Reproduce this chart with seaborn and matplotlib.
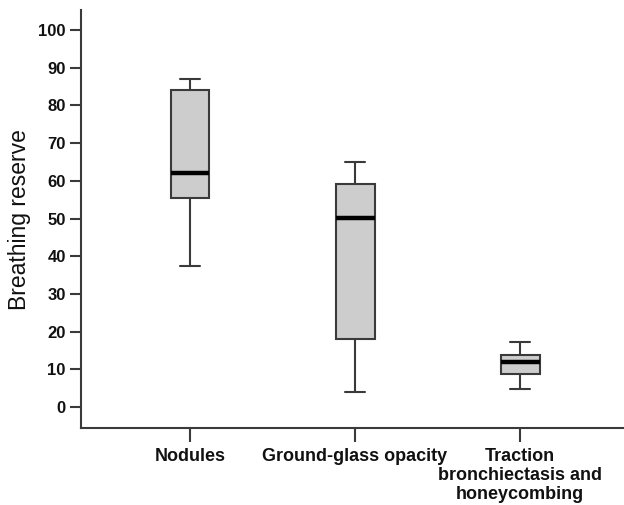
import matplotlib
matplotlib.use('Agg')
import matplotlib.pyplot as plt
import numpy as np
import pandas as pd
import seaborn as sns

# five-number summaries
categories = ['Nodules', 'Ground-glass opacity', 'Traction\nbronchiectasis and\nhoneycombing']
whisker_low = [37.5, 3.9, 4.9]
q1 = [55.4, 18.2, 8.8]
median = [62.1, 50.1, 11.9]
q3 = [84.0, 59.3, 13.9]
whisker_high = [87.1, 65.0, 17.2]
yticks = list(range(0, 101, 10))

# five points per group reproduce the summary exactly (linear quartiles)
rows = []
for i, cat in enumerate(categories):
    for v in (whisker_low[i], q1[i], median[i], q3[i], whisker_high[i]):
        rows.append({'group': cat, 'value': v})
df = pd.DataFrame(rows)

sns.set_style('ticks')
plt.rcParams['font.family'] = ['Liberation Sans', 'DejaVu Sans']

fig = plt.figure(figsize=(6.24, 5.05), dpi=100)
ax = fig.add_axes([0.13, 0.152, 0.87, 0.828])

edge = '#3a3a3a'
sns.boxplot(data=df, x='group', y='value', order=categories, ax=ax,
            color='#cdcdcd', width=0.236, whis=np.inf, showfliers=False,
            linewidth=1.5, linecolor=edge,
            medianprops={'color': 'black', 'linewidth': 3.2})

ax.set_xlim(-0.66, 2.63)
ax.set_ylim(-5.6, 105.3)
ax.set_yticks(yticks)
ax.set_xlabel('')
ax.set_ylabel('Breathing reserve', fontsize=16.5, color='#111111', labelpad=5)

for s in ['top', 'right']:
    ax.spines[s].set_visible(False)
for s in ['left', 'bottom']:
    ax.spines[s].set_color(edge)
    ax.spines[s].set_linewidth(1.5)

ax.tick_params(axis='y', length=8, width=1.5, color=edge, labelsize=12, pad=3)
ax.tick_params(axis='x', length=10, width=1.5, color=edge, labelsize=13, pad=4)
for lab in ax.get_yticklabels() + ax.get_xticklabels():
    lab.set_fontweight('bold')
    lab.set_color('#111111')
for lab in ax.get_xticklabels():
    lab.set_linespacing(1.18)

fig.savefig('out.png', dpi=100)
